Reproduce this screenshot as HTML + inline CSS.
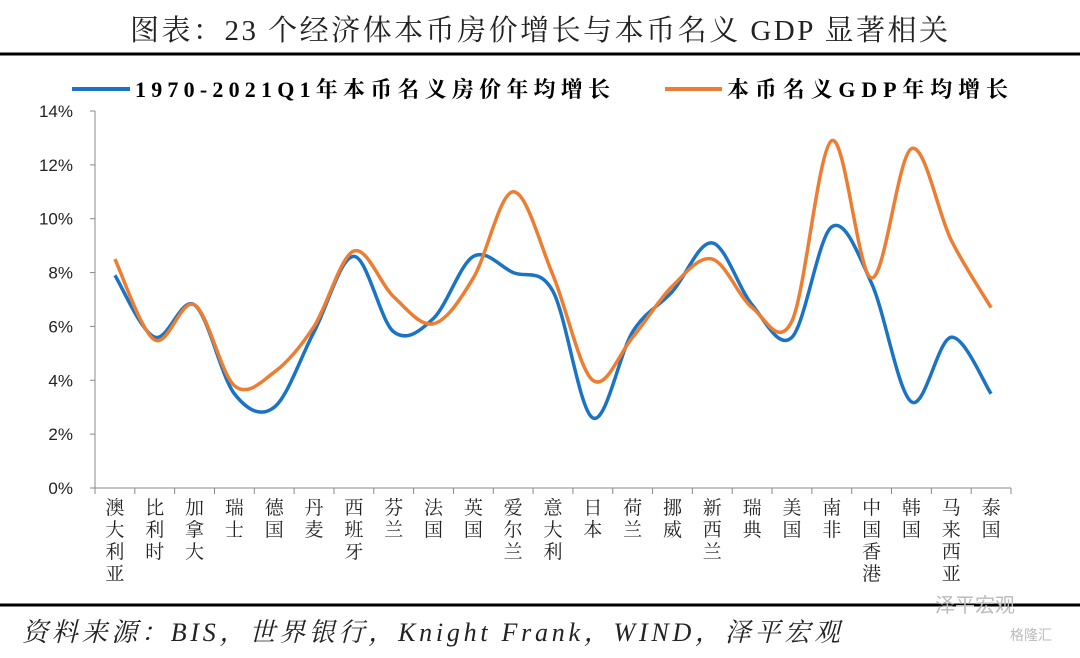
<!DOCTYPE html>
<html><head><meta charset="utf-8">
<style>
body{margin:0;background:#fff;width:1080px;height:653px;overflow:hidden;font-family:"Liberation Serif","Noto Serif CJK SC",serif}
</style></head><body>
<svg id="chart" width="1080" height="653" xmlns="http://www.w3.org/2000/svg">
<text x="130" y="40" textLength="818" lengthAdjust="spacing" font-size="29" font-family="Liberation Serif, Noto Serif CJK SC, serif" fill="#222">图表：23 个经济体本币房价增长与本币名义 GDP 显著相关</text>
<line x1="0" y1="54" x2="1080" y2="54" stroke="#000" stroke-width="3"/>
<g font-family="Liberation Serif, Noto Serif CJK SC, serif" font-weight="bold" font-size="22">
<line x1="72" y1="89" x2="130" y2="89" stroke="#1a73c5" stroke-width="4"/>
<text x="135" y="97" textLength="475" lengthAdjust="spacing" fill="#000">1970-2021Q1年本币名义房价年均增长</text>
<line x1="665" y1="89" x2="722" y2="89" stroke="#ed7d31" stroke-width="4"/>
<text x="727" y="97" textLength="281" lengthAdjust="spacing" fill="#000">本币名义GDP年均增长</text>
</g>
<g id="axes"></g>
<g id="series"></g>
<line x1="0" y1="605" x2="1080" y2="605" stroke="#000" stroke-width="3"/>
<text x="22" y="641" textLength="818" lengthAdjust="spacing" font-size="26" font-style="italic" font-family="Liberation Serif, Noto Serif CJK SC, serif" fill="#222">资料来源：BIS，世界银行，Knight Frank，WIND，泽平宏观</text>
<text x="935" y="612" font-size="20" fill="#bbb" font-family="Liberation Sans, Noto Sans CJK SC, sans-serif">泽平宏观</text>
<text x="1010" y="640" font-size="14" fill="#bbb" font-family="Liberation Sans, Noto Sans CJK SC, sans-serif">格隆汇</text>
</svg>
<script>
const categories=["澳大利亚","比利时","加拿大","瑞士","德国","丹麦","西班牙","芬兰","法国","英国","爱尔兰","意大利","日本","荷兰","挪威","新西兰","瑞典","美国","南非","中国香港","韩国","马来西亚","泰国"];
const houseGrowth=[7.9,5.6,6.8,3.5,3.0,5.8,8.6,5.8,6.3,8.6,8.0,7.3,2.6,5.8,7.3,9.1,6.8,5.6,9.7,7.6,3.2,5.6,3.5];
const gdpGrowth=[8.5,5.5,6.8,3.8,4.3,6.0,8.8,7.1,6.1,7.8,11.0,7.9,4.0,5.6,7.5,8.5,6.7,6.2,12.9,7.8,12.6,9.2,6.7];
const yTicks=[0,2,4,6,8,10,12,14];
const NS="http://www.w3.org/2000/svg";
const L=95,R=1011,T=111,B=488;
const step=(R-L)/categories.length;
const x=i=>L+step*(i+0.5);
const y=v=>B-(v/14)*(B-T);
const axes=document.getElementById('axes'),ser=document.getElementById('series');
function mk(t,a,p){const e=document.createElementNS(NS,t);for(const k in a)e.setAttribute(k,a[k]);p.appendChild(e);return e;}
const ya=mk('line',{x1:L,y1:T,x2:L,y2:B,stroke:'#888','stroke-width':1},axes);


const xa=mk('line',{x1:L,y1:B,x2:R,y2:B,stroke:'#888','stroke-width':1},axes);


yTicks.forEach(v=>{
 const tk=mk('line',{x1:L-5,y1:y(v),x2:L,y2:y(v),stroke:'#888'},axes);
 
 
 const t=mk('text',{x:L-22,y:y(v)+6,'text-anchor':'end','font-size':17,'font-family':'Liberation Sans, sans-serif',fill:'#222'},axes);
 t.textContent=v+'%';
 
 
});
for(let i=0;i<=categories.length;i++){
 const tk=mk('line',{x1:L+step*i,y1:B,x2:L+step*i,y2:B+6,stroke:'#888'},axes);
 
 
}
categories.forEach((c,i)=>{
 const t=mk('text',{x:x(i),'text-anchor':'middle','font-size':19,'font-family':'Liberation Serif, Noto Serif CJK SC, serif',fill:'#222'},axes);
 
 
 [...c].forEach((ch,j)=>{const s=mk('tspan',{x:x(i),y:B+26+j*22},t);s.textContent=ch;});
});
function smooth(vals){
 const p=vals.map((v,i)=>[x(i),y(v)]);
 let d='M'+p[0][0]+','+p[0][1];
 for(let i=0;i<p.length-1;i++){
  const p0=p[i-1]||p[i],p1=p[i],p2=p[i+1],p3=p[i+2]||p2;
  const c1=[p1[0]+(p2[0]-p0[0])/6,p1[1]+(p2[1]-p0[1])/6];
  const c2=[p2[0]-(p3[0]-p1[0])/6,p2[1]-(p3[1]-p1[1])/6];
  d+=' C'+c1+' '+c2+' '+p2;
 }
 return d;
}
const hp=mk('path',{d:smooth(houseGrowth),fill:'none',stroke:'#1a73c5','stroke-width':3.5},ser);


const gp=mk('path',{d:smooth(gdpGrowth),fill:'none',stroke:'#ed7d31','stroke-width':3.5},ser);


</script>
</body></html>
